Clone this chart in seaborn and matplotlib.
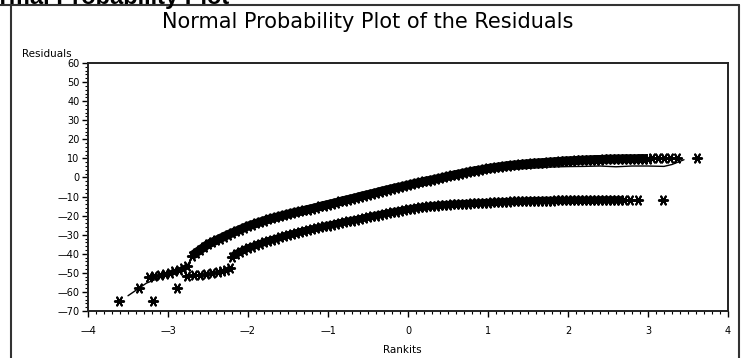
import matplotlib
matplotlib.use("Agg")
import matplotlib.pyplot as plt
from matplotlib.lines import Line2D
from matplotlib.ticker import MultipleLocator, FixedLocator, FixedFormatter
import seaborn as sns
import pandas as pd

# ---------------- data ----------------
upper_tail_x = [-3.61, -3.36, -3.24, -3.17, -3.10, -3.04, -2.98, -2.92, -2.86, -2.81, -2.76]
upper_tail_y = [-65.0, -58.0, -52.0, -51.8, -51.3, -50.7, -50.0, -49.2, -48.3, -47.5, -46.5]

upper_band_x = [-2.70, -2.65, -2.60, -2.55, -2.50,
                -2.45, -2.40, -2.35, -2.30, -2.25,
                -2.20, -2.15, -2.10, -2.05, -2.00,
                -1.95, -1.90, -1.85, -1.80, -1.75,
                -1.70, -1.65, -1.60, -1.55, -1.50,
                -1.45, -1.40, -1.35, -1.30, -1.25,
                -1.20, -1.15, -1.10, -1.05, -1.00,
                -0.95, -0.90, -0.85, -0.80, -0.75,
                -0.70, -0.65, -0.60, -0.55, -0.50,
                -0.45, -0.40, -0.35, -0.30, -0.25,
                -0.20, -0.15, -0.10, -0.05, 0.00,
                0.05, 0.10, 0.15, 0.20, 0.25,
                0.30, 0.35, 0.40, 0.45, 0.50,
                0.55, 0.60, 0.65, 0.70, 0.75,
                0.80, 0.85, 0.90, 0.95, 1.00,
                1.05, 1.10, 1.15, 1.20, 1.25,
                1.30, 1.35, 1.40, 1.45, 1.50,
                1.55, 1.60, 1.65, 1.70, 1.75,
                1.80, 1.85, 1.90, 1.95, 2.00,
                2.05, 2.10, 2.15, 2.20, 2.25,
                2.30, 2.35, 2.40, 2.45, 2.50,
                2.55, 2.60, 2.65, 2.70, 2.75,
                2.80, 2.85, 2.90, 2.95, 3.00,
                3.05, 3.12, 3.20, 3.27, 3.36, 3.61]
upper_band_y = [-41.0, -39.5, -38.0, -36.5, -35.0,
                -34.0, -33.0, -32.0, -31.0, -30.0,
                -29.1, -28.2, -27.3, -26.4, -25.5,
                -24.8, -24.1, -23.4, -22.7, -22.0,
                -21.4, -20.9, -20.3, -19.8, -19.2,
                -18.7, -18.2, -17.8, -17.3, -16.8,
                -16.3, -15.8, -15.2, -14.7, -14.2,
                -13.7, -13.2, -12.6, -12.1, -11.6,
                -11.1, -10.6, -10.0, -9.5, -9.0,
                -8.5, -8.0, -7.4, -6.9, -6.4,
                -5.9, -5.4, -5.0, -4.5, -4.0,
                -3.5, -3.0, -2.6, -2.1, -1.7,
                -1.3, -0.8, -0.4, 0.1, 0.6,
                1.05, 1.5, 1.9, 2.35, 2.8,
                3.2, 3.6, 3.9, 4.3, 4.7,
                5.0, 5.3, 5.6, 5.9, 6.2,
                6.4, 6.6, 6.8, 7.0, 7.2,
                7.4, 7.5, 7.7, 7.8, 8.0,
                8.1, 8.3, 8.4, 8.6, 8.7,
                8.8, 8.9, 9.0, 9.1, 9.2,
                9.3, 9.4, 9.4, 9.5, 9.6,
                9.6, 9.7, 9.7, 9.8, 9.8,
                9.8, 9.8, 9.9, 9.9, 9.9,
                10.0, 10.0, 10.0, 10.0, 10.0, 10.0]
upper_dense_count = 115   # points from -2.70 to 3.00 form the solid band

lower_tail_x = [-3.19, -2.89, -2.76, -2.68, -2.60, -2.52, -2.45, -2.38, -2.32, -2.27, -2.23]
lower_tail_y = [-65.0, -58.0, -51.5, -51.3, -51.0, -50.7, -50.3, -49.8, -49.2, -48.3, -47.3]

lower_band_x = [-2.20, -2.15, -2.10, -2.05, -2.00,
                -1.95, -1.90, -1.85, -1.80, -1.75,
                -1.70, -1.65, -1.60, -1.55, -1.50,
                -1.45, -1.40, -1.35, -1.30, -1.25,
                -1.20, -1.15, -1.10, -1.05, -1.00,
                -0.95, -0.90, -0.85, -0.80, -0.75,
                -0.70, -0.65, -0.60, -0.55, -0.50,
                -0.45, -0.40, -0.35, -0.30, -0.25,
                -0.20, -0.15, -0.10, -0.05, 0.00,
                0.05, 0.10, 0.15, 0.20, 0.25,
                0.30, 0.35, 0.40, 0.45, 0.50,
                0.55, 0.60, 0.65, 0.70, 0.75,
                0.80, 0.85, 0.90, 0.95, 1.00,
                1.05, 1.10, 1.15, 1.20, 1.25,
                1.30, 1.35, 1.40, 1.45, 1.50,
                1.55, 1.60, 1.65, 1.70, 1.75,
                1.80, 1.85, 1.90, 1.95, 2.00,
                2.05, 2.10, 2.15, 2.20, 2.25,
                2.30, 2.35, 2.40, 2.45, 2.50,
                2.55, 2.60, 2.65, 2.70,
                2.78, 2.88, 3.19]
lower_band_y = [-41.5, -40.0, -39.0, -38.0, -37.0,
                -36.3, -35.5, -34.8, -34.0, -33.3,
                -32.7, -32.1, -31.4, -30.8, -30.2,
                -29.7, -29.2, -28.6, -28.1, -27.6,
                -27.1, -26.6, -26.2, -25.7, -25.2,
                -24.8, -24.3, -23.9, -23.4, -23.0,
                -22.6, -22.2, -21.8, -21.3, -20.8,
                -20.4, -20.0, -19.5, -19.1, -18.7,
                -18.3, -17.9, -17.5, -17.1, -16.7,
                -16.4, -16.0, -15.7, -15.5, -15.2,
                -15.0, -14.8, -14.6, -14.4, -14.3,
                -14.1, -14.0, -13.9, -13.8, -13.7,
                -13.6, -13.5, -13.4, -13.3, -13.2,
                -13.1, -13.0, -12.9, -12.8, -12.7,
                -12.6, -12.5, -12.5, -12.4, -12.3,
                -12.3, -12.2, -12.2, -12.1, -12.1,
                -12.1, -12.0, -12.0, -12.0, -12.0,
                -11.9, -11.9, -11.9, -11.9, -11.9,
                -11.9, -11.9, -11.8, -11.8, -11.8,
                -11.8, -11.8, -11.8, -11.8,
                -11.8, -11.8, -11.8]
lower_dense_count = 99    # points from -2.20 to 2.70 form the solid band

ref_line_x = [-3.50, -3.27, -3.10, -2.95, -2.85, -2.75, -2.70, -2.50, -2.00, -1.50, -1.00,
              -0.50, 0.00, 0.50, 1.00, 1.30, 1.60, 1.80, 2.00, 2.20, 2.40, 2.60, 2.80,
              3.00, 3.20, 3.30, 3.45]
ref_line_y = [-62.0, -55.4, -52.5, -50.5, -48.4, -45.5, -42.0, -35.5, -26.0, -19.5, -14.5,
              -9.3, -4.3, 0.2, 3.5, 4.3, 5.0, 5.5, 5.7, 5.8, 6.0, 5.6, 6.0,
              6.0, 5.8, 6.8, 9.3]

x_ticks = [-4, -3, -2, -1, 0, 1, 2, 3, 4]
x_tick_labels = ["\u20144", "\u20143", "\u20142", "\u20141", "0", "1", "2", "3", "4"]
y_ticks = [60, 50, 40, 30, 20, 10, 0, -10, -20, -30, -40, -50, -60, -70]
y_tick_labels = ["60", "50", "40", "30", "20", "10", "0", "\u201410", "\u201420",
                 "\u201430", "\u201440", "\u201450", "\u201460", "\u201470"]

title_text = "Normal Probability Plot of the Residuals"
top_text = "Normal Probability Plot"
y_label = "Residuals"
x_label = "Rankits"

# ---------------- figure ----------------
sns.set_theme(style="white")
plt.rcParams["font.family"] = ["DejaVu Sans"]

W, H = 748, 358
fig = plt.figure(figsize=(W / 100, H / 100), dpi=100)
fig.patch.set_facecolor("white")

def fx(px):
    return px / W

def fy(py):
    return 1 - py / H

ax = fig.add_axes([fx(88), fy(311), fx(728) - fx(88), fy(63) - fy(311)])

# dense runs of overlapping stars render as a solid black band
for bx, by, n, lw in [(upper_band_x, upper_band_y, upper_dense_count, 6.5),
                      (lower_band_x, lower_band_y, lower_dense_count, 5.5)]:
    dense = pd.DataFrame({"rankit": bx[:n], "residual": by[:n]})
    sns.lineplot(data=dense, x="rankit", y="residual", ax=ax, sort=False, estimator=None,
                 color="black", linewidth=lw, zorder=2.5, solid_capstyle="butt")

pts = pd.DataFrame({
    "rankit": upper_tail_x + upper_band_x + lower_tail_x + lower_band_x,
    "residual": upper_tail_y + upper_band_y + lower_tail_y + lower_band_y,
})
star = (6, 2, 90)
sns.scatterplot(data=pts, x="rankit", y="residual", ax=ax, marker=star, s=45,
                color="black", edgecolor="black", linewidth=1.4, legend=False, zorder=3)

line_df = pd.DataFrame({"rankit": ref_line_x, "residual": ref_line_y})
sns.lineplot(data=line_df, x="rankit", y="residual", ax=ax, sort=False, estimator=None,
             color="black", linewidth=1.0, zorder=2)

ax.set_xlim(-4, 4)
ax.set_ylim(-70, 60)
ax.xaxis.set_major_locator(FixedLocator(x_ticks))
ax.xaxis.set_major_formatter(FixedFormatter(x_tick_labels))
ax.yaxis.set_major_locator(FixedLocator(y_ticks))
ax.yaxis.set_major_formatter(FixedFormatter(y_tick_labels))
ax.xaxis.set_minor_locator(MultipleLocator(0.1))
ax.yaxis.set_minor_locator(MultipleLocator(2))
ax.tick_params(axis="both", which="major", direction="out", length=4, width=1.0,
               color="black", labelsize=7, labelcolor="black", pad=2,
               bottom=True, left=True)
ax.tick_params(axis="x", which="major", pad=7)
ax.tick_params(axis="both", which="minor", direction="out", length=2.5, width=0.8,
               color="black", bottom=True, left=True)
ax.set_xlabel("")
ax.set_ylabel("")
for sp in ax.spines.values():
    sp.set_visible(True)
    sp.set_color("#222222")
    sp.set_linewidth(1.4)
ax.set_facecolor("white")
ax.grid(False)

# texts
fig.text(fx(368), fy(28), title_text, ha="center", va="baseline", fontsize=15, color="black")
fig.text(fx(229), fy(4), top_text, ha="right", va="baseline", fontsize=17,
         fontweight="bold", color="black", family=["Liberation Sans", "DejaVu Sans"])
fig.text(fx(22), fy(57), y_label, ha="left", va="baseline", fontsize=7.5, color="black")
fig.text(fx(402), fy(353), x_label, ha="center", va="baseline", fontsize=7.5, color="black")

# outer frame lines
frame_kw = dict(color="#333333", linewidth=1.5, transform=fig.transFigure)
fig.add_artist(Line2D([fx(0), fx(739)], [fy(4.5), fy(4.5)], **frame_kw))
fig.add_artist(Line2D([fx(11), fx(11)], [fy(4.5), fy(358)], **frame_kw))
fig.add_artist(Line2D([fx(739), fx(739)], [fy(4.5), fy(358)], **frame_kw))

fig.savefig("out.png", dpi=100, facecolor="white")
